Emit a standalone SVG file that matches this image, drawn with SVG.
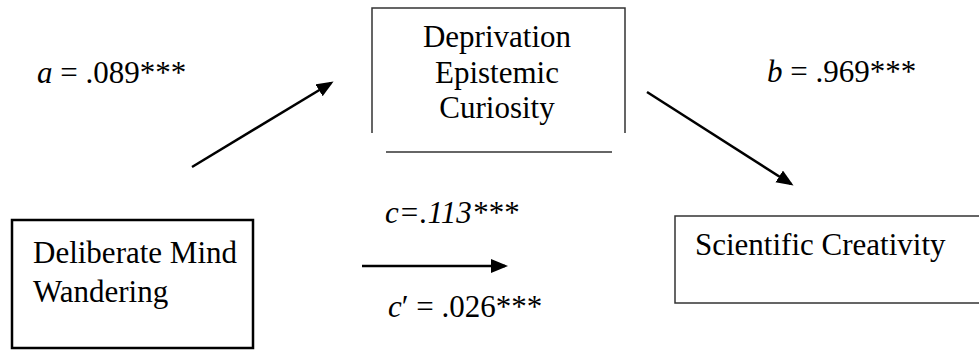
<svg xmlns="http://www.w3.org/2000/svg" width="979" height="352" viewBox="0 0 979 352">
  <style>
    text { font-family: "Liberation Serif", "Times New Roman", serif; fill: #000; }
    .node { font-size: 31px; }
    .lbl { font-size: 31px; }
    .it { font-style: italic; }
    .thin { fill: none; stroke: #333; stroke-width: 1.5; }
    .thick { fill: none; stroke: #000; stroke-width: 2.5; }
    .conn { stroke: #000; stroke-width: 2.5; fill: none; marker-end: url(#arrow); }
  </style>
  <defs>
    <marker id="arrow" markerUnits="userSpaceOnUse" markerWidth="18" markerHeight="16" refX="14" refY="7" orient="auto">
      <path d="M0,0 L17,7 L0,14 z" fill="#000"/>
    </marker>
  </defs>
  <rect width="979" height="352" fill="#fff"/>

  <g id="node-curiosity">
    <path class="thin" d="M372,133 L372,8 L625,8 L625,133"/>
    <line class="thin" x1="386" y1="152" x2="612" y2="152"/>
    <text class="node" x="497" y="47" text-anchor="middle">Deprivation</text>
    <text class="node" x="497" y="83" text-anchor="middle">Epistemic</text>
    <text class="node" x="497" y="118" text-anchor="middle">Curiosity</text>
  </g>

  <g id="node-wandering">
    <rect class="thick" x="12" y="220" width="241" height="128"/>
    <text class="node" x="33" y="263">Deliberate Mind</text>
    <text class="node" x="33" y="302">Wandering</text>
  </g>

  <g id="node-creativity">
    <rect class="thin" x="675" y="216" width="310" height="87"/>
    <text class="node" x="695" y="255">Scientific Creativity</text>
  </g>

  <g id="connectors">
    <line class="conn" x1="192" y1="167" x2="331" y2="83"/>
    <line class="conn" x1="647" y1="92" x2="791" y2="184"/>
    <line class="conn" x1="362" y1="266" x2="505" y2="266"/>
  </g>

  <g id="labels">
    <text class="lbl" x="37" y="83"><tspan class="it">a</tspan> = .089***</text>
    <text class="lbl" x="767" y="82"><tspan class="it">b</tspan> = .969***</text>
    <text class="lbl it" x="385" y="223">c=.113***</text>
    <text class="lbl" x="388" y="317"><tspan class="it">c</tspan>′ = .026***</text>
  </g>
</svg>
